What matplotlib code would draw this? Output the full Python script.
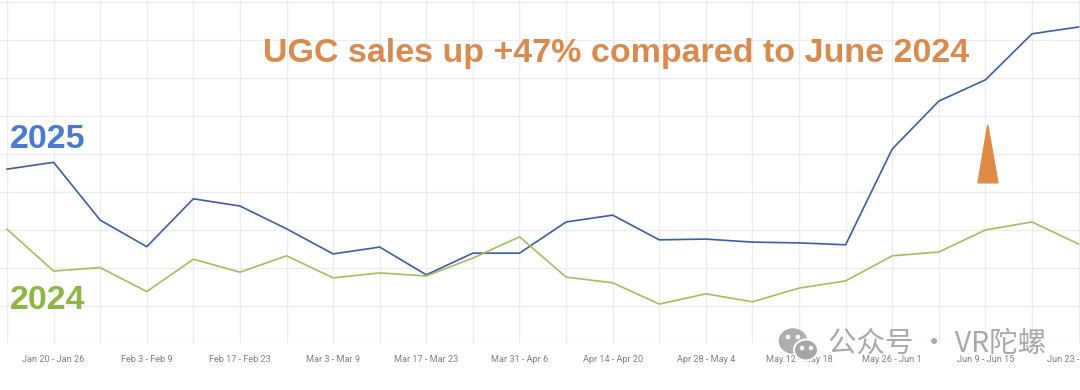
import matplotlib
matplotlib.use("Agg")
import matplotlib.pyplot as plt
from matplotlib.patches import Polygon, Ellipse, Circle

# weekly UGC sales (relative units)
weeks = ["Jan 13 - Jan 19", "Jan 20 - Jan 26", "Jan 27 - Feb 2", "Feb 3 - Feb 9",
         "Feb 10 - Feb 16", "Feb 17 - Feb 23", "Feb 24 - Mar 2", "Mar 3 - Mar 9",
         "Mar 10 - Mar 16", "Mar 17 - Mar 23", "Mar 24 - Mar 30", "Mar 31 - Apr 6",
         "Apr 7 - Apr 13", "Apr 14 - Apr 20", "Apr 21 - Apr 27", "Apr 28 - May 4",
         "May 5 - May 11", "May 12 - May 18", "May 19 - May 25", "May 26 - Jun 1",
         "Jun 2 - Jun 8", "Jun 9 - Jun 15", "Jun 16 - Jun 22", "Jun 23 - Jun 29"]
sales_2025 = [4.60, 4.78, 3.26, 2.56, 3.82, 3.63, 3.03, 2.37, 2.55, 1.82, 2.39, 2.39,
              3.21, 3.39, 2.74, 2.76, 2.68, 2.66, 2.61, 5.13, 6.39, 6.95, 8.16, 8.34]
sales_2024 = [3.02, 1.92, 2.01, 1.38, 2.23, 1.89, 2.32, 1.74, 1.87, 1.79, 2.26, 2.82,
              1.76, 1.61, 1.05, 1.32, 1.11, 1.47, 1.66, 2.32, 2.42, 3.00, 3.21, 2.63]

blue = "#3d5ca8"
green = "#a3bf5b"
orange = "#d98b4f"

fig = plt.figure(figsize=(10.8, 3.9), dpi=100)
ax = fig.add_axes([0, 46 / 390, 1, 344 / 390])

x = list(range(len(weeks)))
ax.plot(x, sales_2025, color=blue, lw=1.2, zorder=3)
ax.plot(x, sales_2024, color=green, lw=1.2, zorder=3)

ax.set_xlim(-0.15, 23.03)
ax.set_ylim(0, 9.05)
ax.set_yticks(range(10))
ax.set_xticks(x)
ax.set_xticklabels([w if i % 2 == 1 else "" for i, w in enumerate(weeks)],
                   fontsize=6.6, color="#808080", family="Roboto")
ax.tick_params(axis="x", length=0, pad=8)
ax.tick_params(axis="y", left=False, labelleft=False)
ax.grid(True, color="#ececec", lw=0.9)
ax.set_axisbelow(True)
for s in ax.spines.values():
    s.set_visible(False)

# series labels and annotation
ax.text(0.06, 5.16, "2025", color="#4a7bd0", fontsize=24.5, fontweight="bold",
        family="Liberation Sans", va="baseline", ha="left")
ax.text(0.06, 0.92, "2024", color="#8db646", fontsize=24.5, fontweight="bold",
        family="Liberation Sans", va="baseline", ha="left")
ax.text(13.07, 7.42, "UGC sales up +47% compared to June 2024", color=orange,
        fontsize=24.5, fontweight="bold", family="Liberation Sans", va="baseline", ha="center")
ax.add_patch(Polygon([[21.05, 5.76], [20.84, 4.24], [21.27, 4.24]], closed=True,
                     color="#e08a45", zorder=4))

# watermark
wm = fig.add_axes([0, 0, 1, 1])
wm.set_xlim(0, 1080)
wm.set_ylim(390, 0)
wm.axis("off")
wm.patch.set_alpha(0)
wm.add_patch(Ellipse((793, 341), 27, 24, color="#a6a6a6", alpha=0.9))
wm.add_patch(Ellipse((806, 350), 24, 21, facecolor="#a6a6a6", edgecolor="white", lw=1.5))
for cx, cy in [(788, 337), (798, 337), (802, 348), (811, 348)]:
    wm.add_patch(Circle((cx, cy), 1.6, color="white"))
wm.text(828, 344, "公众号 · VR陀螺", color="#9a9a9a", alpha=0.85, fontsize=20.5,
        family=["Noto Sans CJK SC", "DejaVu Sans"], va="center", ha="left")

fig.savefig("out.png", dpi=100, facecolor="white")
